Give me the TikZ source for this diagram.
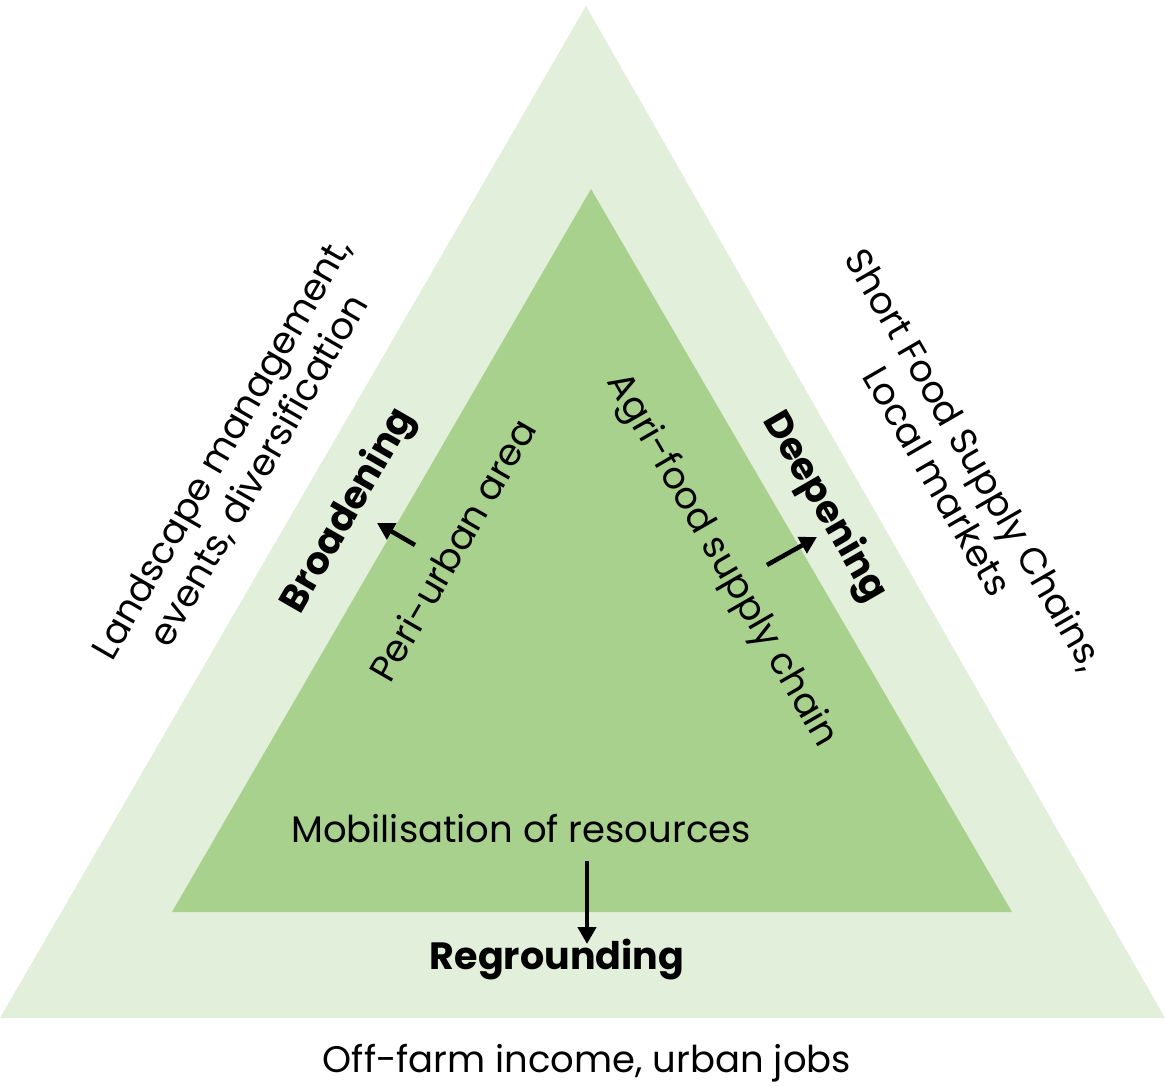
\documentclass[tikz,border=0pt]{standalone}
\usepackage{fontspec}
\setmainfont{Poppins}
\usetikzlibrary{arrows.meta}
\definecolor{outerg}{HTML}{E2EFDA}
\definecolor{innerg}{HTML}{A9D18E}
\begin{document}
\begin{tikzpicture}[x=1pt,y=-1pt,
  lbl/.style={inner sep=0pt,font=\fontsize{37}{43}\selectfont,align=center},
  blbl/.style={lbl,font=\fontsize{38}{43}\selectfont\bfseries},
  arr/.style={line width=4.5pt,-{Triangle[length=17pt,width=18pt]}}]
\useasboundingbox (0,0) rectangle (1165,1086);
\fill[outerg] (586,6) -- (1165,1018) -- (0,1018) -- cycle;
\fill[innerg] (591,189) -- (1012,912) -- (172,912) -- cycle;
\node[lbl,rotate=60] (land) at (241,460) {Landscape management,\\events, diversification};
\node[lbl,rotate=-60] (short) at (957,470) {Short Food Supply Chains,\\Local markets};
\node[blbl,rotate=60] (broad) at (349,511) {Broadening};
\node[lbl,rotate=60] (peri) at (452,550) {Peri-urban area};
\node[lbl,rotate=-60] (agri) at (721,561) {Agri-food supply chain};
\node[blbl,rotate=-60] (deep) at (824,507) {Deepening};
\node[lbl] (mob) at (521,829) {Mobilisation of resources};
\node[blbl] (regr) at (557,959) {Regrounding};
\node[lbl] (off) at (587,1063) {Off-farm income, urban jobs};
\coordinate (bt) at (415,545); \coordinate (bh) at (377,523);
\coordinate (dt) at (767,565); \coordinate (dh) at (817,537);
\coordinate (rt) at (587,861); \coordinate (rh) at (587,944);
\draw[arr] (bt) -- (bh);
\draw[arr] (dt) -- (dh);
\draw[arr] (rt) -- (rh);
\end{tikzpicture}
\end{document}
